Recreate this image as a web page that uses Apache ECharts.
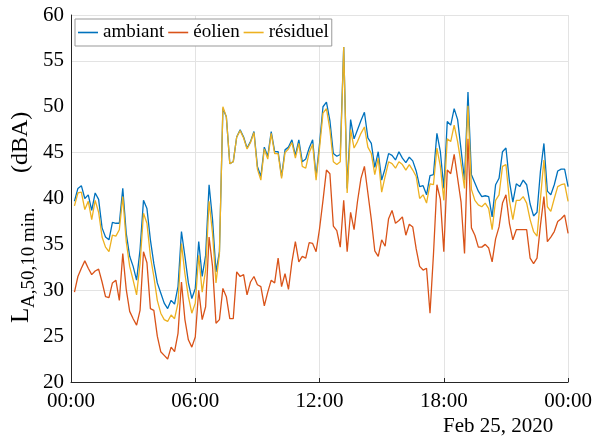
<!DOCTYPE html>
<html><head><meta charset="utf-8">
<script src="https://cdn.jsdelivr.net/npm/echarts@6/dist/echarts.min.js"></script>
<style>html,body{margin:0;padding:0;background:#fff}#c{width:595px;height:437px}</style>
</head><body><div id="c"></div>
<script>
// 10-minute samples from 00:10 to 24:00 (minutes since midnight)
const sampleMinutes = Array.from({length:144},(_,i)=>(i+1)*10);
const ambiant = [39.7,41.1,41.4,40.0,40.4,38.7,40.6,39.9,36.8,35.8,
35.5,37.4,37.3,37.3,41.1,36.2,33.7,32.6,31.1,34.4,
39.8,38.9,35.5,32.9,30.8,29.7,28.6,28.0,28.9,28.5,
30.4,36.4,33.7,30.8,29.1,30.2,35.3,31.5,33.8,41.5,
37.7,32.0,34.2,49.8,48.9,43.8,44.0,46.7,47.5,46.7,
45.5,46.2,47.3,43.5,42.4,45.6,44.6,47.3,45.1,45.1,
42.4,45.3,45.6,46.4,44.7,46.4,44.0,44.3,45.5,46.4,
42.4,46.0,50.0,50.5,48.5,44.9,44.6,44.8,56.5,41.1,
48.6,46.5,47.5,48.5,49.4,46.6,46.0,43.4,45.1,42.0,
43.3,44.9,44.7,44.2,45.1,44.4,43.9,44.5,44.1,43.0,
41.3,41.4,40.4,42.5,42.6,47.1,45.1,41.1,48.4,48.0,
49.8,48.6,45.3,42.0,51.6,42.6,41.7,40.8,40.2,40.3,
40.2,38.0,41.5,42.2,45.1,45.5,41.9,39.6,41.6,41.3,
42.0,41.5,39.4,38.1,38.5,43.0,46.0,40.8,40.4,41.5,
43.0,43.2,43.2,41.3];
const eolien = [29.8,31.5,32.4,33.2,32.4,31.7,32.1,32.3,30.9,29.3,
29.2,30.8,31.1,28.9,34.0,30.1,27.7,26.9,26.2,27.8,
34.2,33.0,28.0,27.8,25.0,23.3,22.9,22.5,23.8,23.3,
25.3,30.9,26.8,24.6,23.8,24.9,30.0,26.8,28.2,35.8,
32.6,26.4,26.8,30.2,29.3,26.9,26.9,32.0,31.5,31.7,
29.5,30.9,31.5,30.6,30.4,28.3,29.8,31.1,30.8,33.5,
30.4,31.8,30.1,33.1,35.3,33.1,33.7,33.5,35.2,35.1,
34.2,36.7,39.8,43.1,42.7,37.0,36.5,34.7,39.8,34.2,
38.5,36.6,39.7,42.2,43.5,40.6,37.7,34.3,33.7,35.5,
34.8,37.8,38.7,37.3,37.6,38.0,36.0,37.2,36.9,34.5,
32.6,32.2,32.4,27.5,33.9,41.5,39.9,34.2,43.1,42.7,
44.8,42.2,39.6,34.0,46.5,36.8,36.0,34.7,34.7,35.0,
34.6,33.1,35.6,36.9,39.5,40.4,37.3,35.5,36.6,36.6,
36.6,36.6,33.5,32.9,33.5,37.1,40.2,35.3,35.8,36.4,
37.5,37.8,38.2,36.2];
const residuel = [39.2,40.6,40.7,38.8,39.7,37.7,39.8,38.5,35.8,34.7,
34.2,36.0,35.9,36.6,40.2,35.3,32.6,31.1,29.5,32.9,
38.4,37.3,33.7,31.5,28.9,27.5,26.8,26.6,27.3,26.9,
28.6,35.1,31.8,29.3,27.5,28.6,33.8,29.8,32.2,39.7,
36.2,30.8,34.0,50.0,48.9,43.8,44.0,46.7,47.4,46.6,
45.4,46.1,47.2,43.2,42.0,45.4,44.3,47.1,44.9,44.9,
42.2,45.0,45.4,46.1,44.4,46.0,43.5,43.3,45.0,45.9,
42.0,45.5,49.3,49.8,47.5,44.0,43.7,44.0,56.5,40.6,
47.5,45.5,46.2,47.1,47.8,45.6,44.9,42.6,44.4,40.7,
42.4,44.0,43.8,43.3,44.0,43.7,43.1,43.7,43.1,42.4,
40.0,40.4,39.5,41.6,41.5,45.5,43.5,39.8,46.5,46.2,
48.0,46.2,43.8,41.1,50.1,41.0,39.8,39.3,39.1,39.5,
38.9,36.6,39.8,40.4,43.5,43.7,39.8,37.7,39.8,39.8,
40.2,39.5,37.7,36.4,35.9,40.0,44.2,39.1,38.6,40.0,
41.3,41.5,41.6,39.7];
const seriesNames = ['ambiant','éolien','résiduel'];
const seriesColors = ['#0072BD','#D95319','#EDB120'];
const yGridValues = [30,45,55,60];
const dateLabel = 'Feb 25, 2020';

const FONT = 'Liberation Serif';
const pair = arr => arr.map((v,i)=>[sampleMinutes[i], v]);
const fmt = v => { const h = Math.round(v/60)%24; return (h<10?'0':'')+h+':00'; };

const chart = echarts.init(document.getElementById('c'), null, {renderer:'canvas'});
const gridColor = '#e3e3e3';
chart.setOption({
  animation:false,
  backgroundColor:'#fff',
  grid:{left:71, right:25, top:15, bottom:55, containLabel:false},
  legend:{
    left:75, top:19, orient:'horizontal',
    data:seriesNames.map(n=>({name:n, icon:'rect'})),
    itemWidth:20, itemHeight:1.6, itemGap:4,
    padding:[4,3,4,3],
    borderColor:'#999', borderWidth:1, backgroundColor:'#fff',
    textStyle:{fontFamily:FONT, fontSize:19, color:'#000'}
  },
  xAxis:{
    type:'value', min:0, max:1440, interval:360,
    axisLine:{show:true, lineStyle:{color:'#262626', width:1}},
    axisTick:{show:true, inside:true, length:4, lineStyle:{color:'#262626'}},
    axisLabel:{formatter:fmt, fontFamily:FONT, fontSize:21, color:'#000', margin:9},
    splitLine:{show:true, lineStyle:{color:gridColor, width:1}}
  },
  yAxis:{
    type:'value', min:20, max:60, interval:5,
    axisLine:{show:true, lineStyle:{color:'#262626', width:1}},
    axisTick:{show:false},
    axisLabel:{fontFamily:FONT, fontSize:21, color:'#000', margin:7},
    splitLine:{show:false}
  },
  graphic:[
    {type:'text', left:443, top:416, style:{text:dateLabel, font:'21px '+FONT, fill:'#000'}},
    {type:'group', x:21, y:323, rotation:Math.PI/2, children:[
      {type:'text', x:0, y:0, style:{text:'L', font:'25px '+FONT, fill:'#000', verticalAlign:'middle', align:'left'}},
      {type:'text', x:15, y:8, style:{text:'A,50,10 min.', font:'19px '+FONT, fill:'#000', verticalAlign:'middle', align:'left'}},
      {type:'text', x:150, y:0, style:{text:'(dBA)', font:'24px '+FONT, fill:'#000', verticalAlign:'middle', align:'left'}}
    ]}
  ],
  series:[
    {name:seriesNames[0], type:'line', data:pair(ambiant), symbol:'none', color:seriesColors[0], lineStyle:{width:1.3},
     markLine:{silent:true, symbol:'none', label:{show:false}, lineStyle:{color:gridColor, width:1, type:'solid'},
       data:yGridValues.map(v=>({yAxis:v})), z:0}},
    {name:seriesNames[1], type:'line', data:pair(eolien), symbol:'none', color:seriesColors[1], lineStyle:{width:1.3}},
    {name:seriesNames[2], type:'line', data:pair(residuel), symbol:'none', color:seriesColors[2], lineStyle:{width:1.3}}
  ]
});
</script></body></html>
